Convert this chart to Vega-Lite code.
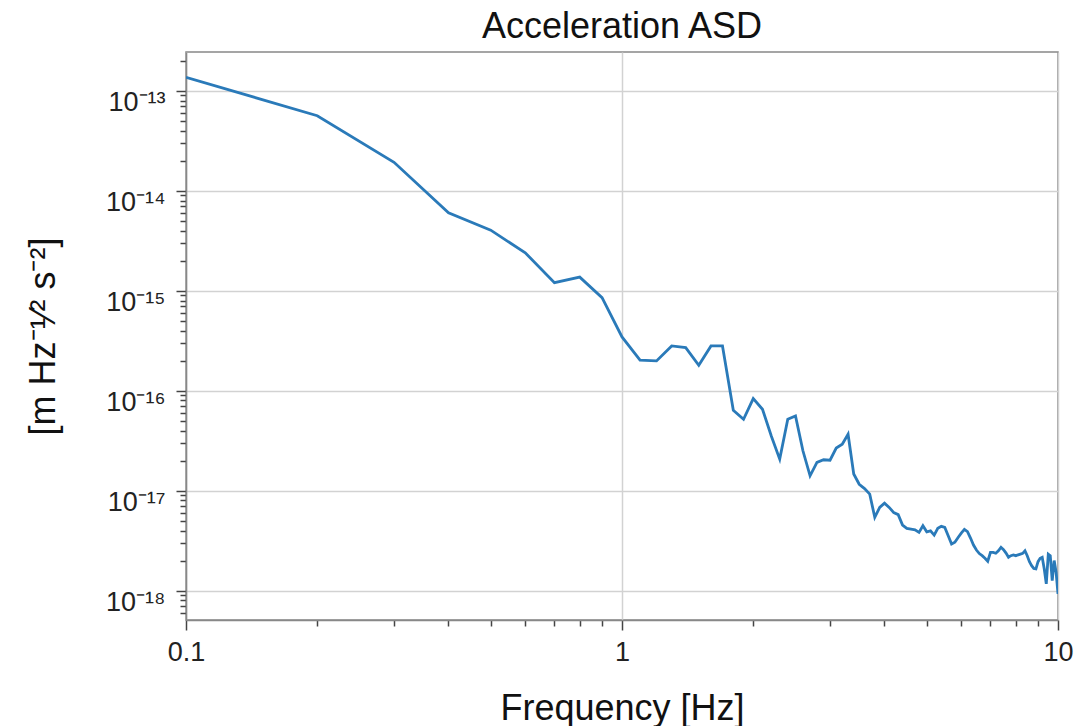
{
  "$schema": "https://vega.github.io/schema/vega-lite/v6.json",
  "width": 872,
  "height": 568,
  "autosize": {"type": "none"},
  "padding": {"left": 186, "top": 52, "right": 33, "bottom": 106},
  "background": "white",
  "title": {"text": "Acceleration ASD", "font": "Liberation Sans", "fontSize": 36, "fontWeight": "normal", "color": "#111111", "anchor": "middle", "frame": "group", "baseline": "alphabetic", "offset": 14, "dy": 36},
  "data": {"values": [
    {"frequency": 0.1, "asd": 1.365e-13}, {"frequency": 0.2, "asd": 5.65e-14}, {"frequency": 0.3, "asd": 1.93e-14},
    {"frequency": 0.4, "asd": 6.03e-15}, {"frequency": 0.5, "asd": 4.04e-15}, {"frequency": 0.6, "asd": 2.40e-15},
    {"frequency": 0.7, "asd": 1.205e-15}, {"frequency": 0.8, "asd": 1.37e-15}, {"frequency": 0.9, "asd": 8.53e-16},
    {"frequency": 1.0, "asd": 3.46e-16}, {"frequency": 1.1, "asd": 2.03e-16}, {"frequency": 1.2, "asd": 1.99e-16},
    {"frequency": 1.3, "asd": 2.81e-16}, {"frequency": 1.4, "asd": 2.70e-16}, {"frequency": 1.5, "asd": 1.80e-16},
    {"frequency": 1.6, "asd": 2.81e-16}, {"frequency": 1.7, "asd": 2.81e-16}, {"frequency": 1.8, "asd": 6.38e-17},
    {"frequency": 1.9, "asd": 5.19e-17}, {"frequency": 2.0, "asd": 8.36e-17}, {"frequency": 2.1, "asd": 6.53e-17},
    {"frequency": 2.2, "asd": 3.53e-17}, {"frequency": 2.3, "asd": 2.07e-17}, {"frequency": 2.4, "asd": 5.19e-17},
    {"frequency": 2.5, "asd": 5.60e-17}, {"frequency": 2.6, "asd": 2.51e-17}, {"frequency": 2.7, "asd": 1.41e-17},
    {"frequency": 2.8, "asd": 1.92e-17}, {"frequency": 2.9, "asd": 2.04e-17}, {"frequency": 3.0, "asd": 2.02e-17},
    {"frequency": 3.1, "asd": 2.67e-17}, {"frequency": 3.2, "asd": 2.92e-17}, {"frequency": 3.3, "asd": 3.67e-17},
    {"frequency": 3.4, "asd": 1.47e-17}, {"frequency": 3.5, "asd": 1.16e-17}, {"frequency": 3.6, "asd": 1.05e-17},
    {"frequency": 3.7, "asd": 9.25e-18}, {"frequency": 3.8, "asd": 5.41e-18}, {"frequency": 3.9, "asd": 6.81e-18},
    {"frequency": 4.0, "asd": 7.52e-18}, {"frequency": 4.1, "asd": 6.81e-18}, {"frequency": 4.2, "asd": 6.04e-18},
    {"frequency": 4.3, "asd": 5.77e-18}, {"frequency": 4.4, "asd": 4.53e-18}, {"frequency": 4.5, "asd": 4.20e-18},
    {"frequency": 4.6, "asd": 4.13e-18}, {"frequency": 4.7, "asd": 4.07e-18}, {"frequency": 4.8, "asd": 3.83e-18},
    {"frequency": 4.9, "asd": 4.46e-18}, {"frequency": 5.0, "asd": 3.88e-18}, {"frequency": 5.1, "asd": 3.97e-18},
    {"frequency": 5.2, "asd": 3.60e-18}, {"frequency": 5.3, "asd": 4.20e-18}, {"frequency": 5.4, "asd": 4.40e-18},
    {"frequency": 5.5, "asd": 4.30e-18}, {"frequency": 5.6, "asd": 3.54e-18}, {"frequency": 5.7, "asd": 2.93e-18},
    {"frequency": 5.8, "asd": 3.05e-18}, {"frequency": 5.9, "asd": 3.41e-18}, {"frequency": 6.0, "asd": 3.77e-18},
    {"frequency": 6.1, "asd": 4.10e-18}, {"frequency": 6.2, "asd": 3.90e-18}, {"frequency": 6.3, "asd": 3.36e-18},
    {"frequency": 6.4, "asd": 2.86e-18}, {"frequency": 6.5, "asd": 2.55e-18}, {"frequency": 6.6, "asd": 2.35e-18},
    {"frequency": 6.7, "asd": 2.24e-18}, {"frequency": 6.8, "asd": 2.11e-18}, {"frequency": 6.9, "asd": 1.97e-18},
    {"frequency": 7.0, "asd": 2.42e-18}, {"frequency": 7.1, "asd": 2.42e-18}, {"frequency": 7.2, "asd": 2.37e-18},
    {"frequency": 7.3, "asd": 2.51e-18}, {"frequency": 7.4, "asd": 2.72e-18}, {"frequency": 7.5, "asd": 2.57e-18},
    {"frequency": 7.6, "asd": 2.38e-18}, {"frequency": 7.7, "asd": 2.16e-18}, {"frequency": 7.8, "asd": 2.24e-18},
    {"frequency": 7.9, "asd": 2.28e-18}, {"frequency": 8.0, "asd": 2.24e-18}, {"frequency": 8.1, "asd": 2.28e-18},
    {"frequency": 8.2, "asd": 2.32e-18}, {"frequency": 8.3, "asd": 2.36e-18}, {"frequency": 8.4, "asd": 2.51e-18},
    {"frequency": 8.5, "asd": 2.24e-18}, {"frequency": 8.6, "asd": 1.95e-18}, {"frequency": 8.7, "asd": 1.78e-18},
    {"frequency": 8.8, "asd": 1.67e-18}, {"frequency": 8.9, "asd": 1.65e-18}, {"frequency": 9.0, "asd": 1.95e-18},
    {"frequency": 9.1, "asd": 2.11e-18}, {"frequency": 9.2, "asd": 2.16e-18}, {"frequency": 9.3, "asd": 1.65e-18},
    {"frequency": 9.4, "asd": 1.17e-18}, {"frequency": 9.5, "asd": 2.32e-18}, {"frequency": 9.6, "asd": 2.24e-18},
    {"frequency": 9.7, "asd": 1.26e-18}, {"frequency": 9.8, "asd": 2.00e-18}, {"frequency": 9.9, "asd": 1.53e-18},
    {"frequency": 10.0, "asd": 9.27e-19}
  ]},
  "mark": {"type": "line", "color": "#2a7ab9", "strokeWidth": 2.8, "clip": true},
  "encoding": {
    "x": {
      "field": "frequency", "type": "quantitative",
      "scale": {"type": "log", "domain": [0.1, 10], "nice": false},
      "axis": {
        "values": [0.1, 0.2, 0.3, 0.4, 0.5, 0.6, 0.7, 0.8, 0.9, 1, 2, 3, 4, 5, 6, 7, 8, 9, 10],
        "labelExpr": "datum.value == 0.1 ? '0.1' : datum.value == 1 ? '1' : datum.value == 10 ? '10' : ''",
        "labelOverlap": false, "labelFlush": false, "labelBound": false,
        "labelFont": "Liberation Sans", "labelFontSize": 27, "labelColor": "#222222", "labelPadding": 9,
        "tickSize": {"condition": {"test": "indexof([0.1, 1, 10], datum.value) >= 0", "value": 10}, "value": 6},
        "tickColor": "#444444", "tickWidth": 1.5,
        "grid": true,
        "gridOpacity": {"condition": {"test": "indexof([0.1, 1, 10], datum.value) >= 0", "value": 1}, "value": 0},
        "gridColor": "#d2d2d2", "gridWidth": 1.5,
        "domainColor": "#888888", "domainWidth": 1.5,
        "title": "Frequency [Hz]", "titleFont": "Liberation Sans", "titleFontSize": 36, "titleFontWeight": "normal", "titleColor": "#111111",
        "titleBaseline": "alphabetic", "titleY": 99
      }
    },
    "y": {
      "field": "asd", "type": "quantitative",
      "scale": {"type": "log", "domain": [5.09e-19, 2.45e-13], "nice": false},
      "axis": {
        "values": [6e-19, 7e-19, 8e-19, 9e-19,
          1e-18, 2e-18, 3e-18, 4e-18, 5e-18, 6e-18, 7e-18, 8e-18, 9e-18,
          1e-17, 2e-17, 3e-17, 4e-17, 5e-17, 6e-17, 7e-17, 8e-17, 9e-17,
          1e-16, 2e-16, 3e-16, 4e-16, 5e-16, 6e-16, 7e-16, 8e-16, 9e-16,
          1e-15, 2e-15, 3e-15, 4e-15, 5e-15, 6e-15, 7e-15, 8e-15, 9e-15,
          1e-14, 2e-14, 3e-14, 4e-14, 5e-14, 6e-14, 7e-14, 8e-14, 9e-14,
          1e-13, 2e-13],
        "labelExpr": "datum.value == 1e-13 ? '10⁻¹³' : datum.value == 1e-14 ? '10⁻¹⁴' : datum.value == 1e-15 ? '10⁻¹⁵' : datum.value == 1e-16 ? '10⁻¹⁶' : datum.value == 1e-17 ? '10⁻¹⁷' : datum.value == 1e-18 ? '10⁻¹⁸' : ''",
        "labelOverlap": false, "labelFlush": false, "labelBound": false,
        "labelFont": "Liberation Sans", "labelFontSize": 27, "labelColor": "#222222", "labelPadding": 11,
        "labelBaseline": "middle", "labelOffset": 12,
        "tickSize": {"condition": {"test": "indexof([1e-13, 1e-14, 1e-15, 1e-16, 1e-17, 1e-18], datum.value) >= 0", "value": 10}, "value": 6},
        "tickColor": "#444444", "tickWidth": 1.5,
        "grid": true,
        "gridOpacity": {"condition": {"test": "indexof([1e-13, 1e-14, 1e-15, 1e-16, 1e-17, 1e-18], datum.value) >= 0", "value": 1}, "value": 0},
        "gridColor": "#d2d2d2", "gridWidth": 1.5,
        "domainColor": "#888888", "domainWidth": 1.5,
        "title": "[m Hz⁻¹⁄² s⁻²]", "titleFont": "Liberation Sans", "titleFontSize": 36, "titleFontWeight": "normal", "titleColor": "#111111",
        "titleBaseline": "alphabetic", "titleX": -132
      }
    }
  },
  "config": {
    "view": {"stroke": "#888888", "strokeWidth": 1.5}
  }
}
